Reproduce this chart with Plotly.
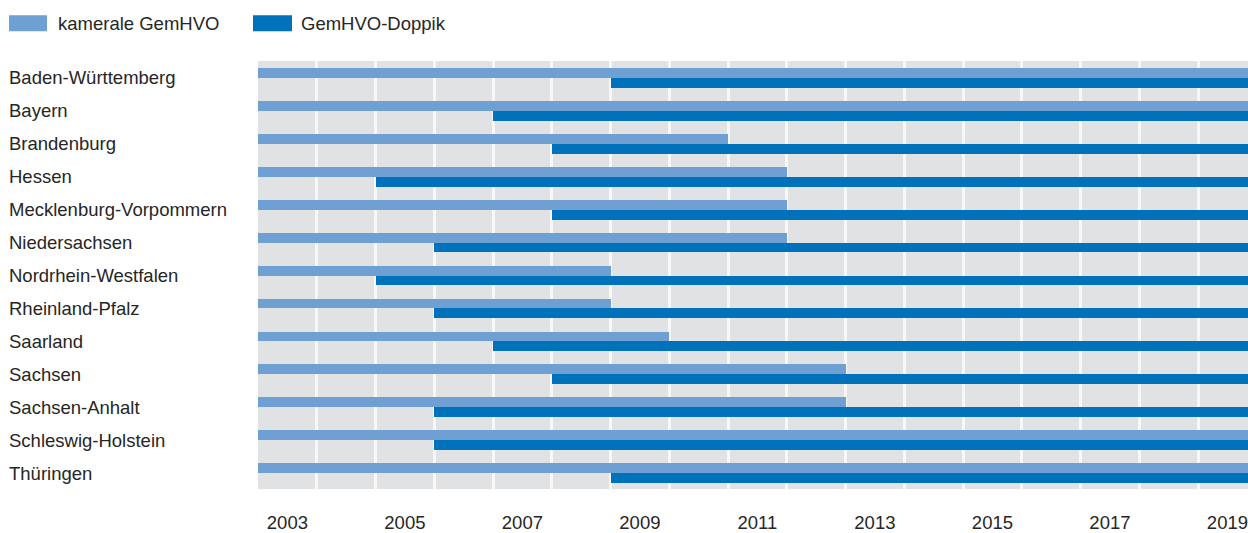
import plotly.graph_objects as go

states = ["Baden-Württemberg", "Bayern", "Brandenburg", "Hessen",
          "Mecklenburg-Vorpommern", "Niedersachsen", "Nordrhein-Westfalen",
          "Rheinland-Pfalz", "Saarland", "Sachsen", "Sachsen-Anhalt",
          "Schleswig-Holstein", "Thüringen"]
# kamerale GemHVO: from 2003 until end year (2020 = still in use)
kameral_start = [2003] * 13
kameral_end = [2020, 2020, 2011, 2012, 2012, 2012, 2009, 2009, 2010, 2013, 2013, 2020, 2020]
# GemHVO-Doppik: from start year until now
doppik_start = [2009, 2007, 2008, 2005, 2008, 2006, 2005, 2006, 2007, 2008, 2006, 2006, 2009]
doppik_end = [2020] * 13
tick_years = [2003, 2005, 2007, 2009, 2011, 2013, 2015, 2017, 2019]
grid_years = list(range(2004, 2020))

LIGHT = "#6fa0d4"
DARK = "#0072bb"
FONT = "Liberation Sans, Arial, sans-serif"
TXT = "#262626"
FS = 18.5

W, H = 1248, 533
ML, MR, MT, MB = 258, 0, 61, 41
PW, PH = W - ML - MR, H - MT - MB

def px(x):
    return (x - ML) / PW

def py(y):
    return (H - MB - y) / PH

fig = go.Figure()
fig.add_trace(go.Bar(
    y=states, x=[e - s for s, e in zip(kameral_start, kameral_end)], base=kameral_start,
    orientation="h", marker=dict(color=LIGHT, line=dict(width=0)),
    width=0.3, offset=-0.3, name="kamerale GemHVO", showlegend=False))
fig.add_trace(go.Bar(
    y=states, x=[e - s for s, e in zip(doppik_start, doppik_end)], base=doppik_start,
    orientation="h", marker=dict(color=DARK, line=dict(width=0)),
    width=0.3, offset=0.0, name="GemHVO-Doppik", showlegend=False))

# state labels, left aligned
for s in states:
    fig.add_annotation(x=px(7), xref="paper", y=s, yref="y", text=s,
                       showarrow=False, xanchor="left", yanchor="middle",
                       font=dict(family=FONT, size=FS, color=TXT))

# legend
legend_items = [("kamerale GemHVO", LIGHT, 9, 47, 56), ("GemHVO-Doppik", DARK, 253, 292, 299)]
for name, col, x0, x1, tx in legend_items:
    fig.add_shape(type="rect", xref="paper", yref="paper",
                  x0=px(x0), x1=px(x1), y0=py(31), y1=py(15),
                  fillcolor=col, line=dict(width=0))
    fig.add_annotation(x=px(tx), xref="paper", y=py(23), yref="paper", text=name,
                       showarrow=False, xanchor="left", yanchor="middle",
                       font=dict(family=FONT, size=FS, color=TXT))

fig.update_layout(
    width=W, height=H,
    margin=dict(l=ML, r=MR, t=MT, b=MB, pad=0),
    paper_bgcolor="white", plot_bgcolor="#e1e2e4",
    barmode="overlay", bargap=0,
    font=dict(family=FONT, size=FS, color=TXT),
    xaxis=dict(
        range=[2003, 2019.85], showgrid=False, zeroline=False,
        tickvals=[y + 0.5 for y in tick_years], ticktext=[str(y) for y in tick_years],
        ticks="", ticklabelstandoff=20, ticklabeloverflow="allow",
        tickfont=dict(family=FONT, size=FS, color=TXT),
        minor=dict(tickvals=grid_years, showgrid=True, gridcolor="#f7f7f7", gridwidth=2.5, ticks=""),
        fixedrange=True,
    ),
    yaxis=dict(
        type="category", categoryorder="array", categoryarray=states,
        range=[12.48, -0.512], showticklabels=False, showgrid=False, zeroline=False,
        fixedrange=True,
    ),
)

fig.write_html(
    "out.html",
    config={"displayModeBar": False},
    post_script=("document.body.style.margin='0';"
                 "document.body.style.overflow='hidden';"
                 "document.documentElement.style.overflow='hidden';"),
)
